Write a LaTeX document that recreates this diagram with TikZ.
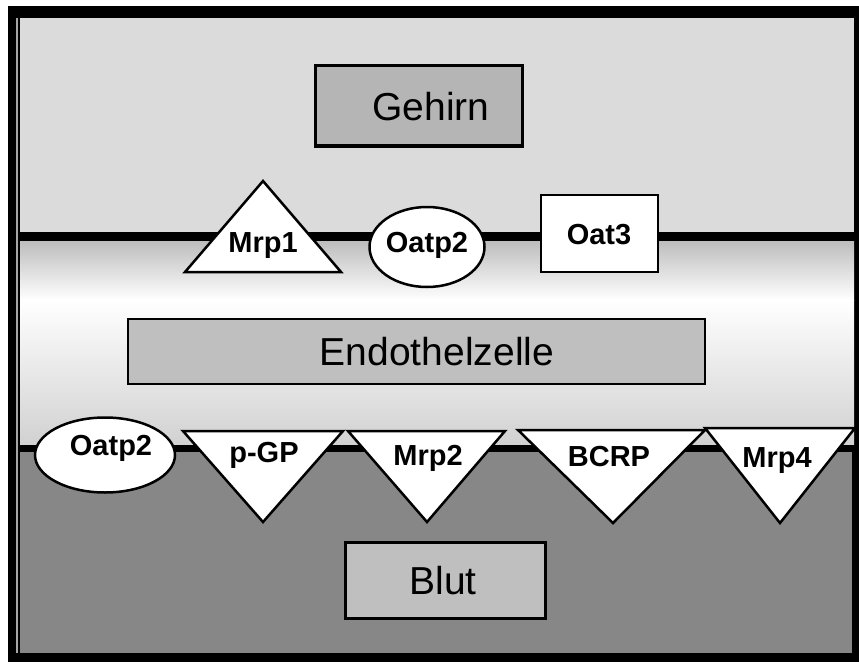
\documentclass[tikz,border=0pt]{standalone}
\usepackage{fontspec}
\setmainfont{Liberation Sans}
\usetikzlibrary{shapes.geometric}
\definecolor{brainbg}{gray}{0.86}
\definecolor{bloodbg}{gray}{0.53}
\definecolor{gehirnfill}{gray}{0.71}
\definecolor{boxfill}{gray}{0.75}
\definecolor{endotop}{gray}{0.74}
\definecolor{endobot}{gray}{0.82}
\tikzset{
  regionbox/.style={draw=black, line width=3pt, inner sep=0pt},
  bigtxt/.style={font=\fontsize{39}{41}\selectfont, anchor=base, inner sep=0pt},
  smalltxt/.style={font=\fontsize{29}{31}\selectfont\bfseries, anchor=base, inner sep=0pt},
  transp/.style={draw=black, fill=white, line width=2.5pt, line join=miter},
  ovalshape/.style={ellipse, draw=black, fill=white, line width=2.5pt, inner sep=0pt},
}
\begin{document}
\begin{tikzpicture}[x=1pt,y=-1pt]
\useasboundingbox (0,0) rectangle (859,666);
\fill[white] (0,0) rectangle (859,666);
% frame
\fill[black] (8,6) rectangle (859,662);
% regions
\fill[brainbg] (20,18) rectangle (854,232);
\shade[top color=endotop, bottom color=white] (20,241) rectangle (854,300);
\shade[top color=white, bottom color=endobot] (20,300) rectangle (854,445);
\fill[bloodbg] (20,452) rectangle (852,653);
\draw[gray!70, line width=1.5pt] (17,18) -- (17,653);
% membranes
\fill[black] (20,232) rectangle (859,241);
\fill[black] (20,445) rectangle (859,452);
% region boxes
\node[regionbox, fill=gehirnfill, minimum width=207pt, minimum height=80pt] (gehirnbox) at (418.5,106) {};
\node[bigtxt] (gehirn) at (431,121) {Gehirn};
\node[regionbox, line width=2pt, fill=boxfill, minimum width=577pt, minimum height=65pt] (endobox) at (416.5,351) {};
\node[bigtxt] (endo) at (437,365) {Endothelzelle};
\node[regionbox, fill=boxfill, minimum width=200pt, minimum height=76pt] (blutbox) at (445,580) {};
\node[bigtxt] (blut) at (443,594) {Blut};
% top transporters
\draw[transp] (185,272) coordinate (m1a) -- (263,181) coordinate (m1b) -- (341,272) coordinate (m1c) -- cycle;
\node[smalltxt] (mrp1) at (263,252) {Mrp1};
\node[ovalshape, minimum width=115pt, minimum height=80pt] (oatpa) at (427,247) {};
\node[smalltxt] (oatpatxt) at (427,252) {Oatp2};
\node[draw=black, fill=white, line width=2.5pt, minimum width=117pt, minimum height=77pt, inner sep=0pt] (oat3box) at (599.5,233.5) {};
\node[smalltxt] (oat3) at (599,244) {Oat3};
% bottom transporters
\node[ovalshape, minimum width=140pt, minimum height=75pt] (oatpb) at (105,455) {};
\node[smalltxt] (oatpbtxt) at (111,455) {Oatp2};
\draw[transp] (183,431) coordinate (pa) -- (343,431) coordinate (pb) -- (263,522) coordinate (pc) -- cycle;
\node[smalltxt] (pgp) at (264,462) {p-GP};
\draw[transp] (348,431) coordinate (ma) -- (505,431) coordinate (mb) -- (427,522) coordinate (mc) -- cycle;
\node[smalltxt] (mrp2) at (428,465) {Mrp2};
\draw[transp] (518,430) coordinate (ba) -- (705,430) coordinate (bb) -- (613,523) coordinate (bc) -- cycle;
\node[smalltxt] (bcrp) at (609,466) {BCRP};
\draw[transp] (705,428) coordinate (ra) -- (855,428) coordinate (rb) -- (780,523) coordinate (rc) -- cycle;
\node[smalltxt] (mrp4) at (777,467) {Mrp4};
\end{tikzpicture}
\end{document}
